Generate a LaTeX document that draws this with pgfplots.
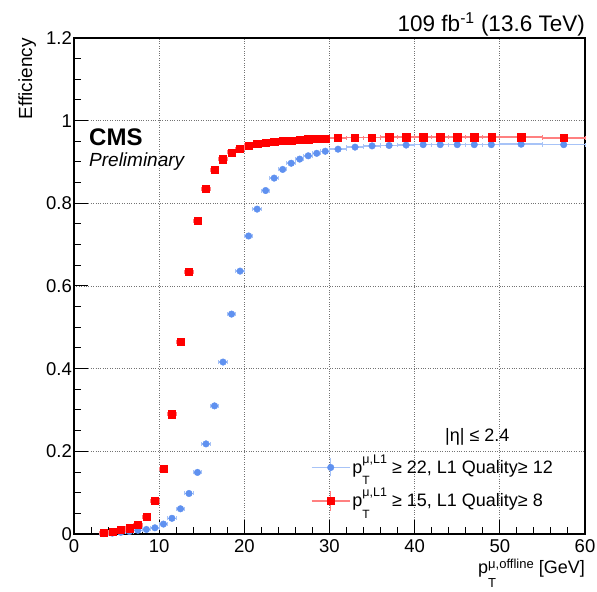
\documentclass[border=0pt]{standalone}
\usepackage{fontspec}
\setmainfont{Liberation Sans}
\usepackage{pgfplots}
\usepackage{pgfplotstable}
\pgfplotsset{compat=1.18}
\definecolor{cmsblue}{RGB}{95,145,240}
\definecolor{cmsred}{RGB}{255,0,0}
\colorlet{cmsbluebar}{cmsblue!55!white}
\colorlet{cmsredbar}{cmsred!50!white}
\newcommand{\fs}[1]{\fontsize{#1}{#1}\selectfont}
% legend style p_T^{...}
\newcommand{\ptleg}[1]{p\smash{\rlap{\raisebox{-11.5bp}{\fs{12bp}T}}\raisebox{10bp}{\fs{12.5bp}#1}}}
% axis-label style: superscript lower
\newcommand{\ptax}[1]{p\smash{\rlap{\raisebox{-13.5bp}{\fs{13bp}T}}\raisebox{5.5bp}{\fs{13bp}#1}}}

\pgfplotstableread{
x y ex
3.5 0.001 0.5
4.5 0.002 0.5
5.5 0.004 0.5
6.5 0.006 0.5
7.5 0.009 0.5
8.5 0.011 0.5
9.5 0.015 0.5
10.5 0.024 0.5
11.5 0.038 0.5
12.5 0.061 0.5
13.5 0.098 0.5
14.5 0.149 0.5
15.5 0.218 0.5
16.5 0.310 0.5
17.5 0.416 0.5
18.5 0.532 0.5
19.5 0.636 0.5
20.5 0.721 0.5
21.5 0.786 0.5
22.5 0.831 0.5
23.5 0.861 0.5
24.5 0.882 0.5
25.5 0.897 0.5
26.5 0.907 0.5
27.5 0.915 0.5
28.5 0.921 0.5
29.5 0.926 0.5
31 0.931 1
33 0.936 1
35 0.939 1
37 0.940 1
39 0.941 1
41 0.942 1
43 0.942 1
45 0.942 1
47 0.942 1
49 0.942 1
52.5 0.943 2.5
57.5 0.942 2.5
}\bluedata

\pgfplotstableread{
x y ex
3.5 0.003 0.5
4.5 0.006 0.5
5.5 0.010 0.5
6.5 0.014 0.5
7.5 0.022 0.5
8.5 0.042 0.5
9.5 0.081 0.5
10.5 0.158 0.5
11.5 0.290 0.5
12.5 0.465 0.5
13.5 0.634 0.5
14.5 0.758 0.5
15.5 0.835 0.5
16.5 0.881 0.5
17.5 0.907 0.5
18.5 0.923 0.5
19.5 0.932 0.5
20.5 0.940 0.5
21.5 0.944 0.5
22.5 0.947 0.5
23.5 0.949 0.5
24.5 0.951 0.5
25.5 0.952 0.5
26.5 0.954 0.5
27.5 0.955 0.5
28.5 0.956 0.5
29.5 0.957 0.5
31 0.958 1
33 0.959 1
35 0.959 1
37 0.960 1
39 0.960 1
41 0.960 1
43 0.960 1
45 0.960 1
47 0.960 1
49 0.960 1
52.5 0.960 2.5
57.5 0.958 2.5
}\reddata

\begin{document}
\begin{tikzpicture}
\begin{axis}[
  name=ax,
  scale only axis,
  width=511bp, height=496bp,
  xmin=0, xmax=60, ymin=0, ymax=1.2,
  xtick={0,10,20,30,40,50,60},
  xticklabels={0,10,20,30,40,50,60},
  ytick={0,0.2,0.4,0.6,0.8,1,1.2},
  yticklabels={0,0.2,0.4,0.6,0.8,1,1.2},
  minor x tick num=4, minor y tick num=3,
  tick align=inside, tick pos=left,
  major tick length=14bp, minor tick length=7bp,
  grid=major,
  grid style={dotted, line width=0.9bp, black!55},
  axis line style={line width=1.2bp},
  every tick/.style={line width=1bp, black},
  ticklabel style={font=\fs{18.5bp}},
  yticklabel style={inner xsep=2bp},
  xticklabel style={inner ysep=5.5bp},
  xlabel={\ptax{μ,offline} [GeV]},
  xlabel style={at={(axis description cs:1,-0.0806)}, anchor=base east, inner sep=0pt, font=\fs{18bp}},
  ylabel={Efficiency},
  ylabel style={at={(axis description cs:-0.074,1)}, anchor=south east, inner sep=0pt, font=\fs{19bp}},
  legend style={draw=none, fill=none, inner sep=0pt, font=\fs{18bp},
    at={(axis cs:27.8,0.185)}, anchor=north west, row sep=13bp},
  legend cell align=left,
  clip=false,
]
\addplot[cmsblue, only marks, mark=*, mark size=3.3bp, mark options={draw=cmsblue, fill=cmsblue}, forget plot,
  error bars/.cd, x dir=both, x explicit,
  error bar style={cmsbluebar, line width=1.5bp},
  error mark=|, error mark options={cmsbluebar, line width=1bp, mark size=2bp}]
  table[x=x, y=y, x error=ex] {\bluedata};
\addplot[cmsred, only marks, mark=square*, mark size=3.6bp, mark options={draw=cmsred, fill=cmsred}, forget plot,
  error bars/.cd, x dir=both, x explicit,
  error bar style={cmsredbar, line width=1.5bp},
  error mark=|, error mark options={cmsredbar, line width=1bp, mark size=2bp}]
  table[x=x, y=y, x error=ex] {\reddata};

\addlegendimage{legend image code/.code={
  \draw[cmsbluebar, line width=1.5bp] (0bp,0bp) -- (38bp,0bp);
  \draw[cmsbluebar, line width=1.5bp] (19bp,-9bp) -- (19bp,9bp);
  \fill[cmsblue] (19bp,0bp) circle (3.3bp);
}}
\addlegendentry{\ptleg{μ,L1} ≥ 22, L1 Quality≥ 12}
\addlegendimage{legend image code/.code={
  \draw[cmsredbar, line width=1.5bp] (0bp,0bp) -- (38bp,0bp);
  \draw[cmsredbar, line width=1.5bp] (19bp,-10bp) -- (19bp,10bp);
  \fill[cmsred] (15.4bp,-3.6bp) rectangle (22.6bp,3.6bp);
}}
\addlegendentry{\ptleg{μ,L1} ≥ 15, L1 Quality≥ 8}

\node[anchor=base west, inner sep=0pt, font=\fs{18bp}] at (axis cs:43.56,0.223) {|η| ≤ 2.4};
\node[anchor=base west, inner sep=0pt, font=\bfseries\fs{24bp}] at (axis cs:1.76,0.9395) {CMS};
\node[anchor=base west, inner sep=0pt, font=\itshape\fs{19bp}] at (axis cs:1.76,0.8895) {Preliminary};
\node[anchor=base east, inner sep=0pt, font=\fs{22.5bp}] at (rel axis cs:1,1.0141) {109 fb\textsuperscript{-1} (13.6 TeV)};
\end{axis}
\pgfresetboundingbox
\path[use as bounding box] ([shift={(-74bp,-58bp)}]ax.south west) rectangle ([shift={(12bp,38bp)}]ax.north east);
\end{tikzpicture}
\end{document}
